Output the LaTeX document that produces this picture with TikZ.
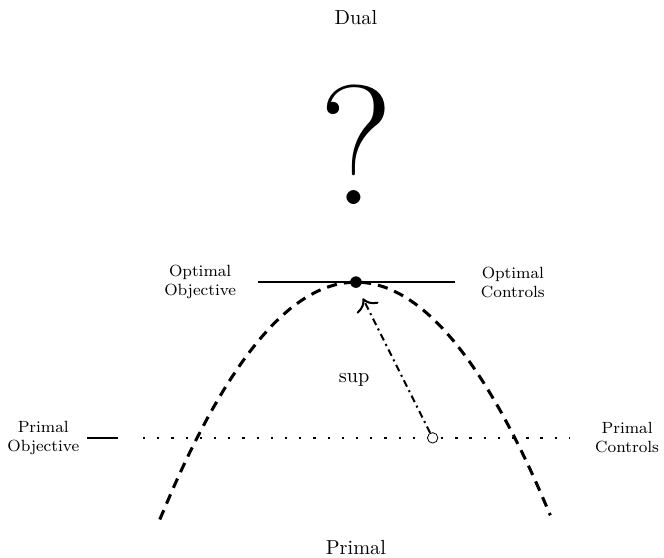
\documentclass[tikz,border=0pt]{standalone}
\usetikzlibrary{arrows.meta}
\begin{document}
\begin{tikzpicture}
							\useasboundingbox (-6.17, -4.77) rectangle (5.34, 4.89);
							\node (dual) at (0, 4.58) {Dual};
							\node (primal) at (0, -4.61) {Primal};
							\node (quest) at (0, 2.39) {\fontsize{84}{90}\selectfont ?};
							\draw[thick] (-1.7, 0) -- (1.72, 0);
							\node[align = center, font = \footnotesize] (optobj) at (-2.7, 0) {Optimal\\Objective};
							\node[align = center, font = \footnotesize] (optctl) at (2.72, 0) {Optimal\\Controls};
							\draw[line width = 1.5pt, dash pattern = on 5pt off 3.5pt, domain = -3.4:3.37, smooth, variable = \x] plot({\x}, {-0.356 * \x * \x});
							\draw[line width = 1.1pt, dash pattern = on 1.1pt off 5.9pt] (-3.69, -2.7) -- (3.71, -2.7);
							\draw[thick] (-4.66, -2.7) -- (-4.12, -2.7);
							\node[align = center, font = \footnotesize] (primobj) at (-5.42, -2.7) {Primal\\Objective};
							\node[align = center, font = \footnotesize] (primctl) at (4.7, -2.7) {Primal\\Controls};
							\node (sup) at (-0.03, -1.7) {sup};
							\node[circle, fill, inner sep = 0pt, minimum size = 0.2cm] (opt) at (0, 0) {};
							\node[circle, draw, fill = white, inner sep = 0pt, minimum size = 0.18cm] (start) at (1.33, -2.7) {};
							\coordinate (tip) at (0.12, -0.28);
							\draw[line width = 1pt, dash pattern = on 3.5pt off 2pt on 1pt off 2pt, -{To[scale = 1.5]}] (start) -- (tip);
						\end{tikzpicture}
\end{document}
